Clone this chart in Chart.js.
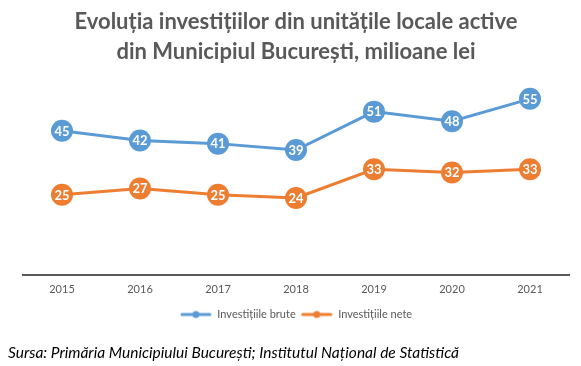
<!DOCTYPE html>
<html>
<head>
<meta charset="utf-8">
<script src="https://cdn.jsdelivr.net/npm/chart.js@4.4.0/dist/chart.umd.min.js"></script>
<style>
  html, body { margin: 0; padding: 0; background: #ffffff; }
  #wrap { width: 581px; height: 366px; position: relative; }
</style>
</head>
<body>
<div id="wrap"><canvas id="c" width="581" height="366"></canvas></div>
<script>
const years = ["2015", "2016", "2017", "2018", "2019", "2020", "2021"];
const investitiiBrute = [45, 42, 41, 39, 51, 48, 55];
const investitiiNete = [25, 27, 25, 24, 33, 32, 33];
const seriesNames = ["Investițiile brute", "Investițiile nete"];
const titleLines = ["Evoluția investițiilor din unitățile locale active", "din Municipiul București, milioane lei"];
const sourceText = "Sursa: Primăria Municipiului București; Institutul Național de Statistică";

const BLUE = "#5B9BD5";
const ORANGE = "#ED7D31";
const FONT = "Lato, 'Liberation Sans', sans-serif";

function legendMarker(color) {
  const cv = document.createElement("canvas");
  cv.width = 32; cv.height = 10;
  const g = cv.getContext("2d");
  g.strokeStyle = color; g.lineWidth = 3; g.lineCap = "round";
  g.beginPath(); g.moveTo(2, 5); g.lineTo(30, 5); g.stroke();
  g.fillStyle = color;
  g.beginPath(); g.arc(16, 5, 3.5, 0, Math.PI * 2); g.fill();
  return cv;
}

const pointLabels = {
  id: "pointLabels",
  afterDatasetsDraw(chart) {
    const ctx = chart.ctx;
    ctx.save();
    ctx.fillStyle = "#ffffff";
    ctx.font = "bold 13px " + FONT;
    ctx.textAlign = "center";
    ctx.textBaseline = "middle";
    chart.data.datasets.forEach((ds, i) => {
      const meta = chart.getDatasetMeta(i);
      meta.data.forEach((el, j) => {
        ctx.fillText(String(ds.data[j]), el.x, el.y + 0.5);
      });
    });
    ctx.restore();
  }
};

const sourceNote = {
  id: "sourceNote",
  afterDraw(chart) {
    const ctx = chart.ctx;
    ctx.save();
    ctx.fillStyle = "#000000";
    ctx.font = "italic 15.5px " + FONT;
    ctx.textAlign = "left";
    ctx.textBaseline = "middle";
    ctx.fillText(sourceText, 8, 353);
    ctx.restore();
  }
};

new Chart(document.getElementById("c"), {
  type: "line",
  data: {
    labels: years,
    datasets: [
      {
        label: seriesNames[0],
        data: investitiiBrute,
        borderColor: BLUE,
        backgroundColor: BLUE,
        borderWidth: 3,
        pointRadius: 11,
        pointHoverRadius: 11,
        pointBorderWidth: 0,
        pointBackgroundColor: BLUE,
        tension: 0
      },
      {
        label: seriesNames[1],
        data: investitiiNete,
        borderColor: ORANGE,
        backgroundColor: ORANGE,
        borderWidth: 3,
        pointRadius: 11,
        pointHoverRadius: 11,
        pointBorderWidth: 0,
        pointBackgroundColor: ORANGE,
        tension: 0
      }
    ]
  },
  options: {
    responsive: false,
    animation: false,
    layout: { padding: { left: 23, right: 12, top: 0, bottom: 36 } },
    scales: {
      x: {
        offset: true,
        grid: { display: false, drawTicks: false },
        border: { display: true, color: "#595959", width: 2 },
        ticks: { color: "#595959", font: { family: FONT, size: 11 }, padding: 8 }
      },
      y: {
        display: false,
        min: 0,
        max: 60
      }
    },
    plugins: {
      title: {
        display: true,
        text: titleLines,
        color: "#595959",
        font: { family: FONT, size: 22, weight: "bold", lineHeight: 1.36 },
        padding: { top: 7, bottom: 16 }
      },
      legend: {
        position: "bottom",
        labels: {
          usePointStyle: true,
          pointStyleWidth: 32,
          color: "#595959",
          font: { family: FONT, size: 11 },
          padding: 5,
          generateLabels(chart) {
            return chart.data.datasets.map((ds, i) => ({
              text: ds.label,
              pointStyle: legendMarker(ds.borderColor),
              fillStyle: ds.borderColor,
              strokeStyle: ds.borderColor,
              lineWidth: 0,
              fontColor: "#595959",
              hidden: false,
              datasetIndex: i
            }));
          }
        }
      },
      tooltip: { enabled: false }
    }
  },
  plugins: [pointLabels, sourceNote]
});
</script>
</body>
</html>
